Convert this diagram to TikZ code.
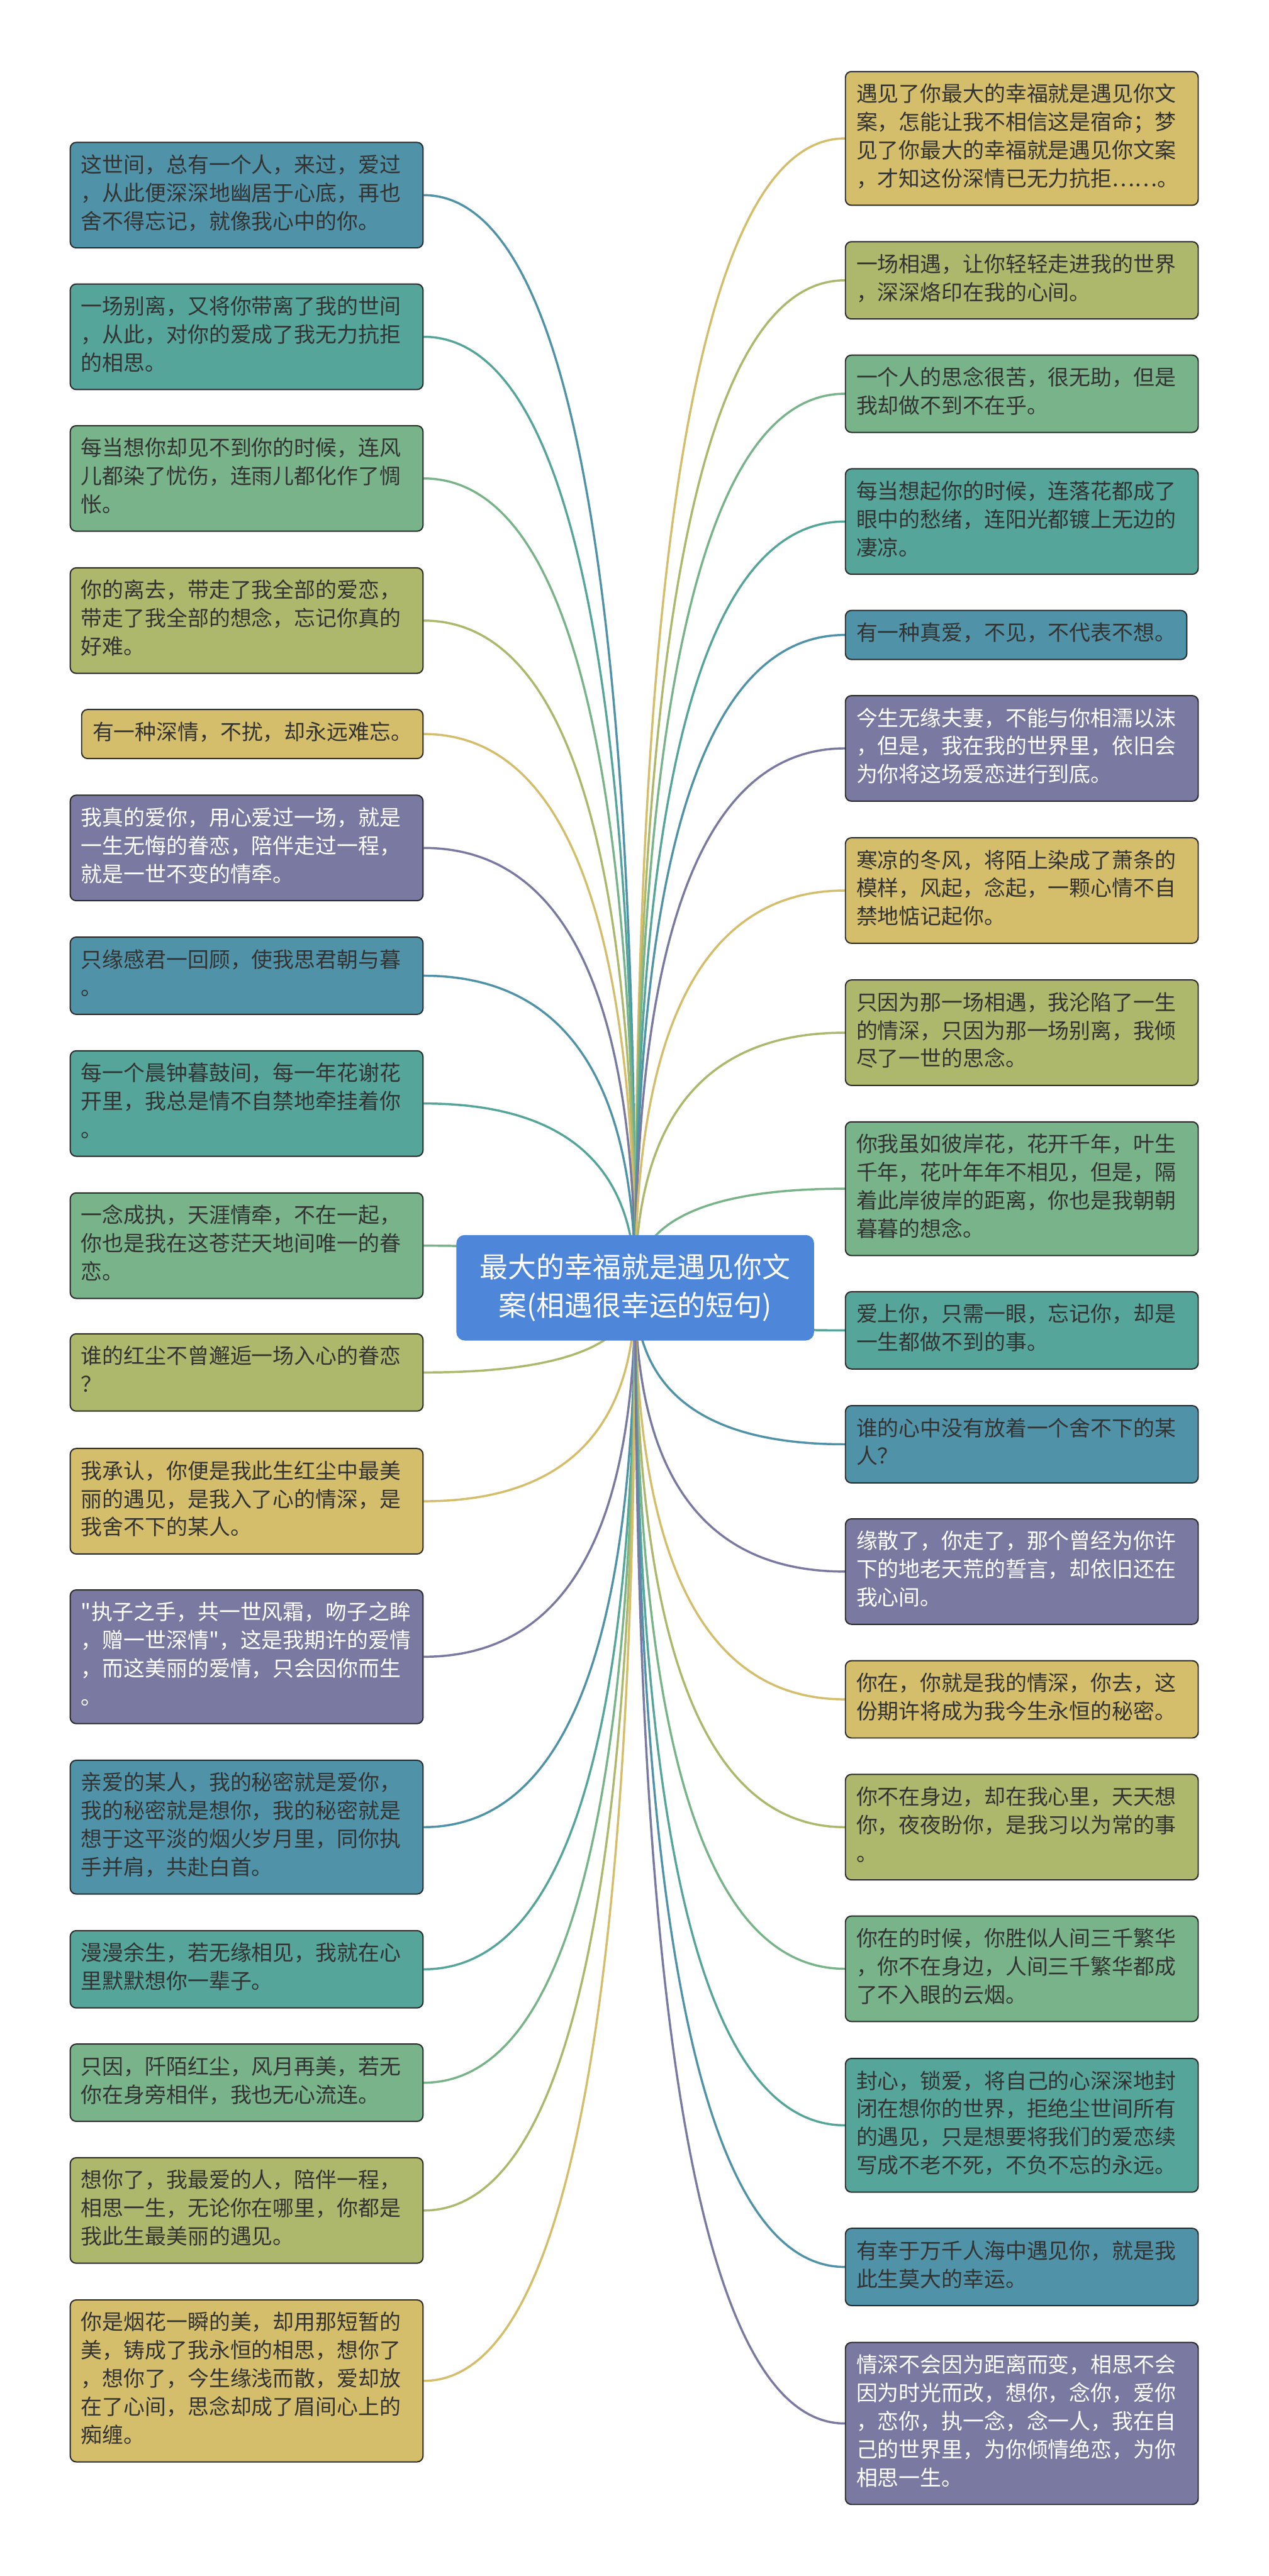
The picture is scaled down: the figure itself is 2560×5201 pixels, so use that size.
\documentclass[tikz,border=0pt]{standalone}
\usepackage{fontspec}
\setmainfont{Noto Sans CJK SC}[Ligatures=TeXOff]
\usetikzlibrary{calc}
\definecolor{cyel}{HTML}{D4BE6C}
\definecolor{coli}{HTML}{ADB86D}
\definecolor{cgre}{HTML}{78B38A}
\definecolor{ctea}{HTML}{55A59A}
\definecolor{cblu}{HTML}{5093A8}
\definecolor{cpur}{HTML}{7A79A1}
\definecolor{ccen}{HTML}{4E86DA}
\definecolor{cbord}{HTML}{2B2B2B}
\definecolor{ctext}{HTML}{333333}
\newcommand{\dq}{{\char34}}
\pgfdeclarelayer{bg}
\pgfsetlayers{bg,main}
\begin{document}
\begin{tikzpicture}[x=0.5pt,y=-0.5pt,
  leaf/.style={draw=cbord, line width=1.25pt, rounded corners=6pt, inner xsep=11pt, inner ysep=10.5pt,
    font=\fontsize{21.5}{28.5}\selectfont, text=ctext,
    execute at begin node=\strut, execute at end node=\strut},
  multi/.style={leaf, text width=334pt, align=left},
  ln/.style={anchor=east},
  rn/.style={anchor=west},
  wt/.style={text=white},
  conn/.style={line width=2.2pt}]
\begin{pgfonlayer}{bg}
\fill[white] (0,0) rectangle (2560,5201);
\end{pgfonlayer}
\coordinate (C) at (1282,2600);
\node[draw=ccen, fill=ccen, line width=1pt, rounded corners=8pt, minimum width=360pt, minimum height=105.5pt,
  text=white, align=center, font=\fontsize{28.5}{38.5}\selectfont] (root) at (C)
  {最大的幸福就是遇见你文\\案(相遇很幸运的短句)};
% left column
\node[multi, ln, fill=cblu] (L1) at (855,394) {这世间，总有一个人，来过，爱过\\，从此便深深地幽居于心底，再也\\舍不得忘记，就像我心中的你。};
\node[multi, ln, fill=ctea] (L2) at (855,680) {一场别离，又将你带离了我的世间\\，从此，对你的爱成了我无力抗拒\\的相思。};
\node[multi, ln, fill=cgre] (L3) at (855,966) {每当想你却见不到你的时候，连风\\儿都染了忧伤，连雨儿都化作了惆\\怅。};
\node[multi, ln, fill=coli] (L4) at (855,1253) {你的离去，带走了我全部的爱恋，\\带走了我全部的想念，忘记你真的\\好难。};
\node[leaf, ln, fill=cyel] (L5) at (855,1482) {有一种深情，不扰，却永远难忘。};
\node[multi, ln, fill=cpur, wt] (L6) at (855,1712) {我真的爱你，用心爱过一场，就是\\一生无悔的眷恋，陪伴走过一程，\\就是一世不变的情牵。};
\node[multi, ln, fill=cblu] (L7) at (855,1970) {只缘感君一回顾，使我思君朝与暮\\。};
\node[multi, ln, fill=ctea] (L8) at (855,2228) {每一个晨钟暮鼓间，每一年花谢花\\开里，我总是情不自禁地牵挂着你\\。};
\node[multi, ln, fill=cgre] (L9) at (855,2515) {一念成执，天涯情牵，不在一起，\\你也是我在这苍茫天地间唯一的眷\\恋。};
\node[multi, ln, fill=coli] (L10) at (855,2771) {谁的红尘不曾邂逅一场入心的眷恋\\？};
\node[multi, ln, fill=cyel] (L11) at (855,3031) {我承认，你便是我此生红尘中最美\\丽的遇见，是我入了心的情深，是\\我舍不下的某人。};
\node[multi, ln, fill=cpur, wt] (L12) at (855,3345) {\dq 执子之手，共一世风霜，吻子之眸\\，赠一世深情\dq ，这是我期许的爱情\\，而这美丽的爱情，只会因你而生\\。};
\node[multi, ln, fill=cblu] (L13) at (855,3689) {亲爱的某人，我的秘密就是爱你，\\我的秘密就是想你，我的秘密就是\\想于这平淡的烟火岁月里，同你执\\手并肩，共赴白首。};
\node[multi, ln, fill=ctea] (L14) at (855,3976) {漫漫余生，若无缘相见，我就在心\\里默默想你一辈子。};
\node[multi, ln, fill=cgre] (L15) at (855,4205) {只因，阡陌红尘，风月再美，若无\\你在身旁相伴，我也无心流连。};
\node[multi, ln, fill=coli] (L16) at (855,4463) {想你了，我最爱的人，陪伴一程，\\相思一生，无论你在哪里，你都是\\我此生最美丽的遇见。};
\node[multi, ln, fill=cyel] (L17) at (855,4807) {你是烟花一瞬的美，却用那短暂的\\美，铸成了我永恒的相思，想你了\\，想你了，今生缘浅而散，爱却放\\在了心间，思念却成了眉间心上的\\痴缠。};
% right column
\node[multi, rn, fill=cyel] (R1) at (1705,279.5) {遇见了你最大的幸福就是遇见你文\\案，怎能让我不相信这是宿命；梦\\见了你最大的幸福就是遇见你文案\\，才知这份深情已无力抗拒……。};
\node[multi, rn, fill=coli] (R2) at (1705,566) {一场相遇，让你轻轻走进我的世界\\，深深烙印在我的心间。};
\node[multi, rn, fill=cgre] (R3) at (1705,795) {一个人的思念很苦，很无助，但是\\我却做不到不在乎。};
\node[multi, rn, fill=ctea] (R4) at (1705,1053) {每当想起你的时候，连落花都成了\\眼中的愁绪，连阳光都镀上无边的\\凄凉。};
\node[leaf, rn, fill=cblu] (R5) at (1705,1282) {有一种真爱，不见，不代表不想。};
\node[multi, rn, fill=cpur, wt] (R6) at (1705,1511) {今生无缘夫妻，不能与你相濡以沫\\，但是，我在我的世界里，依旧会\\为你将这场爱恋进行到底。};
\node[multi, rn, fill=cyel] (R7) at (1705,1798) {寒凉的冬风，将陌上染成了萧条的\\模样，风起，念起，一颗心情不自\\禁地惦记起你。};
\node[multi, rn, fill=coli] (R8) at (1705,2085) {只因为那一场相遇，我沦陷了一生\\的情深，只因为那一场别离，我倾\\尽了一世的思念。};
\node[multi, rn, fill=cgre] (R9) at (1705,2400) {你我虽如彼岸花，花开千年，叶生\\千年，花叶年年不相见，但是，隔\\着此岸彼岸的距离，你也是我朝朝\\暮暮的想念。};
\node[multi, rn, fill=ctea] (R10) at (1705,2686) {爱上你，只需一眼，忘记你，却是\\一生都做不到的事。};
\node[multi, rn, fill=cblu] (R11) at (1705,2916) {谁的心中没有放着一个舍不下的某\\人？};
\node[multi, rn, fill=cpur, wt] (R12) at (1705,3173) {缘散了，你走了，那个曾经为你许\\下的地老天荒的誓言，却依旧还在\\我心间。};
\node[multi, rn, fill=cyel] (R13) at (1705,3431) {你在，你就是我的情深，你去，这\\份期许将成为我今生永恒的秘密。};
\node[multi, rn, fill=coli] (R14) at (1705,3689) {你不在身边，却在我心里，天天想\\你，夜夜盼你，是我习以为常的事\\。};
\node[multi, rn, fill=cgre] (R15) at (1705,3975) {你在的时候，你胜似人间三千繁华\\，你不在身边，人间三千繁华都成\\了不入眼的云烟。};
\node[multi, rn, fill=ctea] (R16) at (1705,4291) {封心，锁爱，将自己的心深深地封\\闭在想你的世界，拒绝尘世间所有\\的遇见，只是想要将我们的爱恋续\\写成不老不死，不负不忘的永远。};
\node[multi, rn, fill=cblu] (R17) at (1705,4577) {有幸于万千人海中遇见你，就是我\\此生莫大的幸运。};
\node[multi, rn, fill=cpur, wt] (R18) at (1705,4893) {情深不会因为距离而变，相思不会\\因为时光而改，想你，念你，爱你\\，恋你，执一念，念一人，我在自\\己的世界里，为你倾情绝恋，为你\\相思一生。};
% connectors
\begin{pgfonlayer}{bg}
\foreach \n/\c in {L1/cblu,L2/ctea,L3/cgre,L4/coli,L5/cyel,L6/cpur,L7/cblu,L8/ctea,L9/cgre,L10/coli,L11/cyel,L12/cpur,L13/cblu,L14/ctea,L15/cgre,L16/coli,L17/cyel}{
  \draw[conn, draw=\c] (C) .. controls ($(C)!0.6667!(C |- \n.east)$) and ($(\n.east)!0.6667!(C |- \n.east)$) .. (\n.east);
}
\foreach \n/\c in {R1/cyel,R2/coli,R3/cgre,R4/ctea,R5/cblu,R6/cpur,R7/cyel,R8/coli,R9/cgre,R10/ctea,R11/cblu,R12/cpur,R13/cyel,R14/coli,R15/cgre,R16/ctea,R17/cblu,R18/cpur}{
  \draw[conn, draw=\c] (C) .. controls ($(C)!0.6667!(C |- \n.west)$) and ($(\n.west)!0.6667!(C |- \n.west)$) .. (\n.west);
}
\end{pgfonlayer}
\end{tikzpicture}
\end{document}
